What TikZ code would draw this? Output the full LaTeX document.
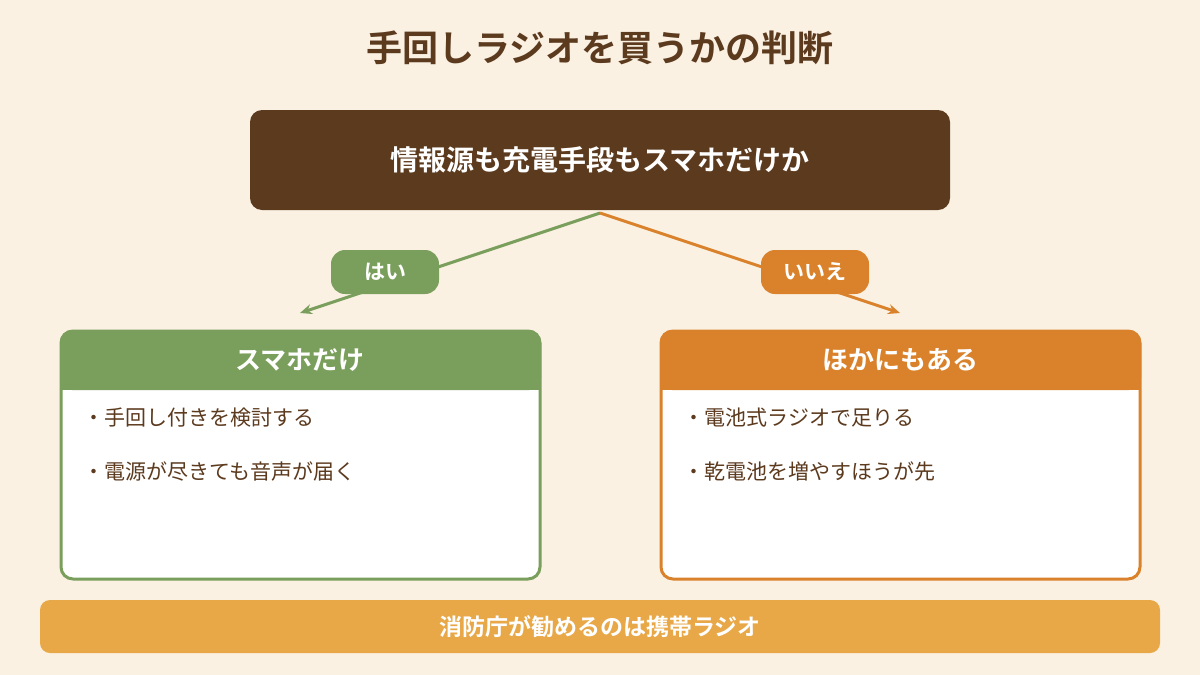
\documentclass[tikz,border=0pt]{standalone}
\usepackage{fontspec}
\usetikzlibrary{arrows.meta}
\setmainfont{Noto Sans CJK JP}[BoldFont={Noto Sans CJK JP Bold}]
\definecolor{bg}{HTML}{FAF1E3}
\definecolor{brown}{HTML}{5C3A1E}
\definecolor{grn}{HTML}{7A9E5B}
\definecolor{org}{HTML}{D9822B}
\definecolor{bar}{HTML}{E8A848}
\begin{document}
\begin{tikzpicture}[x=1pt,y=-1pt,
  pill/.style={rounded corners=14pt,minimum width=108pt,minimum height=44pt,text=white,font=\fontsize{21}{21}\selectfont\bfseries},
  item/.style={anchor=west,text=brown,font=\fontsize{21}{21}\selectfont},
  head/.style={text=white,font=\fontsize{26}{26}\selectfont\bfseries},
  conn/.style={line width=3pt,-{Stealth[length=12pt,width=10pt]}}]
\fill[bg] (0,0) rectangle (1200,675);
\useasboundingbox (0,0) rectangle (1200,675);
\node[text=brown,font=\fontsize{36}{36}\selectfont\bfseries] (title) at (600,48) {手回しラジオを買うかの判断};
\fill[brown,rounded corners=12pt] (250,110) rectangle (950,210);
\node[text=white,font=\fontsize{28}{28}\selectfont\bfseries] (q) at (600,160) {情報源も充電手段もスマホだけか};
\coordinate (top) at (600,213);
\coordinate (lend) at (300,313);
\coordinate (rend) at (900,313);
\draw[conn,grn] (top) -- (lend);
\draw[conn,org] (top) -- (rend);
\node[pill,fill=grn] (yes) at (385,272) {はい};
\node[pill,fill=org] (no) at (815,272) {いいえ};
% left card
\draw[grn,line width=3pt,fill=white,rounded corners=12pt] (61,331) rectangle (540,579);
\fill[grn,rounded corners=12pt] (60,330) rectangle (541,390);
\fill[grn] (60,370) rectangle (541,390);
\node[head] (lh) at (300,360) {スマホだけ};
\node[item] (l1) at (80,418) {・手回し付きを検討する};
\node[item] (l2) at (80,472) {・電源が尽きても音声が届く};
% right card
\draw[org,line width=3pt,fill=white,rounded corners=12pt] (661,331) rectangle (1140,579);
\fill[org,rounded corners=12pt] (660,330) rectangle (1141,390);
\fill[org] (660,370) rectangle (1141,390);
\node[head] (rh) at (900,360) {ほかにもある};
\node[item] (r1) at (680,418) {・電池式ラジオで足りる};
\node[item] (r2) at (680,472) {・乾電池を増やすほうが先};
% bottom
\fill[bar,rounded corners=10pt] (40,600) rectangle (1160,653);
\node[text=white,font=\fontsize{23}{23}\selectfont\bfseries] (b) at (600,627) {消防庁が勧めるのは携帯ラジオ};
\end{tikzpicture}
\end{document}
